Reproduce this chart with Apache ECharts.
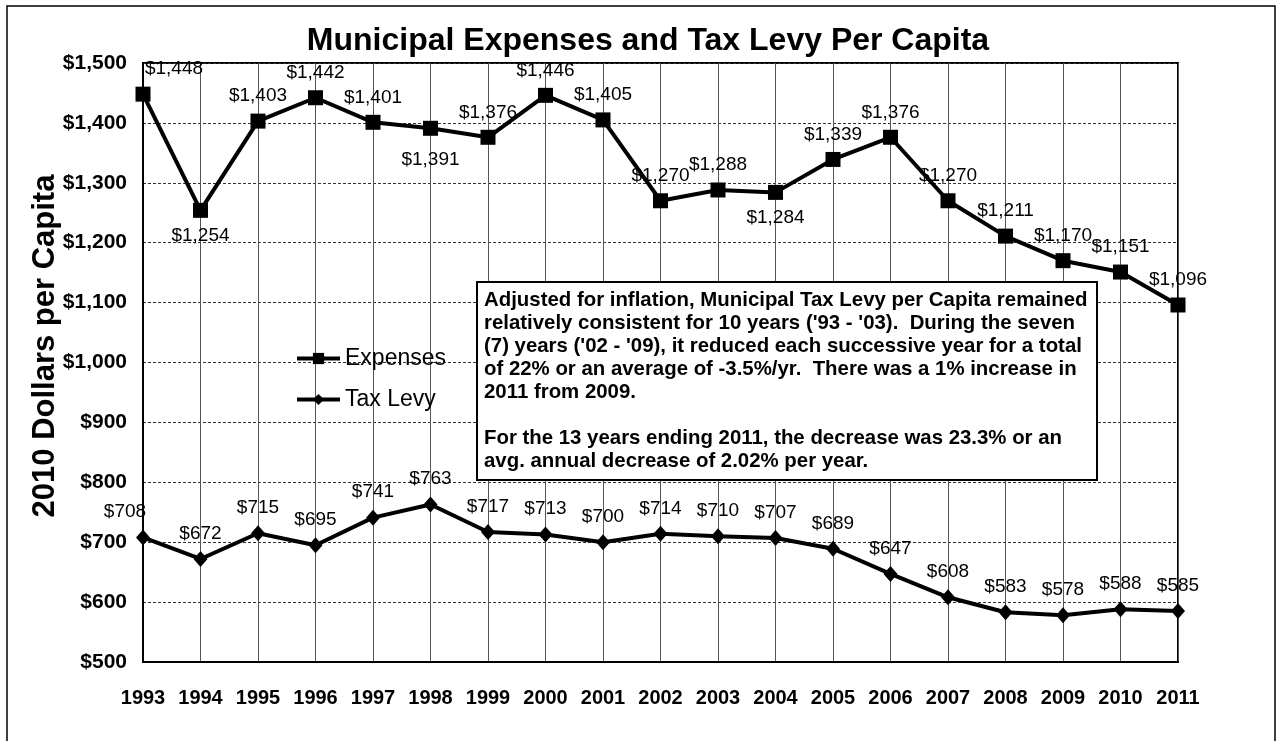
<!DOCTYPE html>
<html>
<head>
<meta charset="utf-8">
<title>Municipal Expenses and Tax Levy Per Capita</title>
<script src="https://cdn.jsdelivr.net/npm/echarts@6/dist/echarts.min.js"></script>
<style>
html, body { margin: 0; padding: 0; background: #fff; }
#chart { width: 1279px; height: 741px; }
</style>
</head>
<body>
<div id="chart"></div>
<script>
// values (2010 dollars per capita)
var years = ['1993', '1994', '1995', '1996', '1997', '1998', '1999', '2000', '2001', '2002',
  '2003', '2004', '2005', '2006', '2007', '2008', '2009', '2010', '2011'];
var expenses = [1448, 1254, 1403, 1442, 1401, 1391, 1376, 1446, 1405, 1270,
  1288, 1284, 1339, 1376, 1270, 1211, 1170, 1151, 1096];
var taxLevy = [708, 672, 715, 695, 741, 763, 717, 713, 700, 714,
  710, 707, 689, 647, 608, 583, 578, 588, 585];
var yMin = 500, yMax = 1500, yStep = 100;
var noteLines = [
  'Adjusted for inflation, Municipal Tax Levy per Capita remained',
  "relatively consistent for 10 years ('93 - '03).  During the seven",
  "(7) years ('02 - '09), it reduced each successive year for a total",
  'of 22% or an average of -3.5%/yr.  There was a 1% increase in',
  '2011 from 2009.',
  '',
  'For the 13 years ending 2011, the decrease was 23.3% or an',
  'avg. annual decrease of 2.02% per year.'
];

var FONT = 'Arial, "Liberation Sans", sans-serif';

function money(v) {
  return '$' + String(v).replace(/\B(?=(\d{3})+(?!\d))/g, ',');
}

// labels that sit under the point in the original
var expBelow = ['1994', '1998', '2004'];

var expData = expenses.map(function (v, i) {
  var item = { value: v };
  if (expBelow.indexOf(years[i]) >= 0) {
    item.label = { position: 'bottom', distance: years[i] === '1998' ? 14 : 8 };
  }
  if (i === 0) item.label = { offset: [31, 0] };
  return item;
});
var taxData = taxLevy.map(function (v, i) {
  var item = { value: v };
  if (i === 0) item.label = { offset: [-18, 0] };
  return item;
});

var labelStyle = {
  show: true, position: 'top', distance: 8,
  fontFamily: FONT, fontSize: 19, color: '#000',
  formatter: function (p) { return money(p.value); }
};

var chart = echarts.init(document.getElementById('chart'));
chart.setOption({
  backgroundColor: '#fff',
  animation: false,
  title: {
    text: 'Municipal Expenses and Tax Levy Per Capita',
    left: 643,
    textAlign: 'center',
    top: 20,
    textStyle: { fontFamily: FONT, fontSize: 32, fontWeight: 'bold', color: '#000' }
  },
  legend: {
    orient: 'vertical',
    left: 295,
    top: 347,
    padding: 0,
    itemWidth: 43,
    itemHeight: 14,
    itemGap: 18,
    textStyle: { fontFamily: FONT, fontSize: 23, color: '#000' },
    lineStyle: { width: 4, color: '#000' },
    data: ['Expenses', 'Tax Levy']
  },
  grid: {
    left: 143,
    right: 101,
    top: 63,
    bottom: 79,
    show: true,
    backgroundColor: '#fff',
    borderColor: '#000',
    borderWidth: 2
  },
  xAxis: {
    type: 'category',
    data: years,
    boundaryGap: false,
    axisLine: { lineStyle: { color: '#000', width: 2 } },
    axisTick: { show: false },
    splitLine: { show: true, lineStyle: { color: '#555', width: 1 } },
    axisLabel: { fontFamily: FONT, fontSize: 20, fontWeight: 'bold', color: '#000', margin: 26, interval: 0 }
  },
  yAxis: {
    type: 'value',
    min: yMin,
    max: yMax,
    interval: yStep,
    axisLine: { show: true, lineStyle: { color: '#000', width: 2 } },
    axisTick: { show: false },
    splitLine: { show: true, lineStyle: { color: '#333', width: 1, type: [3, 2] } },
    axisLabel: {
      fontFamily: FONT, fontSize: 21, fontWeight: 'bold', color: '#000', margin: 16,
      formatter: money
    }
  },
  series: [
    {
      name: 'Expenses',
      type: 'line',
      data: expData,
      symbol: 'rect',
      symbolSize: 15,
      lineStyle: { color: '#000', width: 4 },
      itemStyle: { color: '#000' },
      label: labelStyle,
      z: 5
    },
    {
      name: 'Tax Levy',
      type: 'line',
      data: taxData,
      symbol: 'diamond',
      symbolSize: [14, 16],
      lineStyle: { color: '#000', width: 4 },
      itemStyle: { color: '#000' },
      label: labelStyle,
      z: 5
    }
  ],
  graphic: [
    {
      type: 'rect',
      z: -10,
      silent: true,
      shape: { x: 7, y: 6, width: 1268, height: 800 },
      style: { fill: null, stroke: '#000', lineWidth: 1.5 }
    },
    {
      // y axis title
      type: 'text',
      z: 50,
      x: 45,
      y: 346,
      rotation: Math.PI / 2,
      style: {
        text: '2010 Dollars per Capita',
        font: 'bold 31px ' + FONT,
        fill: '#000',
        align: 'center',
        verticalAlign: 'middle'
      }
    },
    {
      type: 'rect',
      z: 100,
      shape: { x: 477, y: 282, width: 620, height: 198 },
      style: { fill: '#fff', stroke: '#000', lineWidth: 2 }
    },
    {
      type: 'text',
      z: 101,
      x: 484,
      y: 289,
      style: {
        text: noteLines.join('\n'),
        font: 'bold 20.4px ' + FONT,
        lineHeight: 23,
        fill: '#000'
      }
    }
  ]
});
</script>
</body>
</html>
